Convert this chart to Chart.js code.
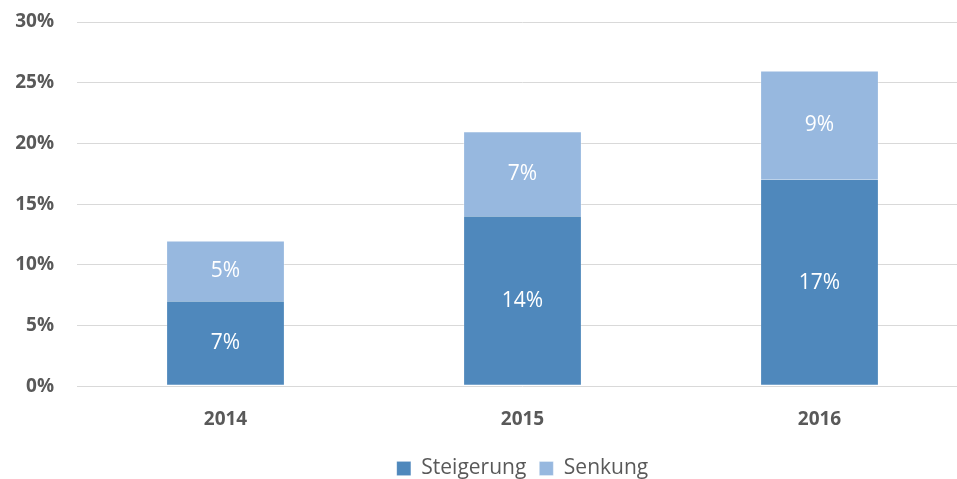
<!DOCTYPE html>
<html>
<head>
<meta charset="utf-8">
<script src="https://cdn.jsdelivr.net/npm/chart.js@4.4.0/dist/chart.umd.min.js"></script>
<style>
  html, body { margin: 0; padding: 0; background: #fff; overflow: hidden; }
  #wrap { position: relative; width: 968px; height: 479px; }
</style>
</head>
<body>
<div id="wrap"><canvas id="chart_increaseDecrease"></canvas></div>
<script>
var years = ['2014', '2015', '2016'];
var steigerung = [7, 14, 17];
var senkung = [5, 7, 9];
var yTicks = [0, 5, 10, 15, 20, 25, 30];

var textGrey = '#595959';
var fontFamily = '"Open Sans", sans-serif';

// white value labels in the middle of each stacked segment
var valueLabels = {
    id: 'valueLabels',
    afterDatasetsDraw: function (chart) {
        var ctx = chart.ctx;
        ctx.save();
        ctx.fillStyle = '#ffffff';
        ctx.font = '21px ' + fontFamily;
        ctx.textAlign = 'center';
        ctx.textBaseline = 'middle';
        chart.data.datasets.forEach(function (ds, i) {
            chart.getDatasetMeta(i).data.forEach(function (bar, j) {
                var p = bar.getCenterPoint();
                ctx.fillText(ds.data[j] + '%', p.x, p.y);
            });
        });
        ctx.restore();
    }
};

var chart_increaseDecrease = new Chart(document.getElementById('chart_increaseDecrease'), {
    type: 'bar',
    data: {
        labels: years,
        datasets: [
            {
                label: 'Steigerung',
                data: steigerung,
                backgroundColor: '#4f88bc',
                borderColor: 'rgba(255,255,255,0.12)',
                borderWidth: 1,
                borderSkipped: 'top',
                barPercentage: 1,
                categoryPercentage: 0.4
            },
            {
                label: 'Senkung',
                data: senkung,
                backgroundColor: '#97b8df',
                borderColor: 'rgba(255,255,255,0.3)',
                borderWidth: 1,
                borderSkipped: 'bottom',
                barPercentage: 1,
                categoryPercentage: 0.4
            }
        ]
    },
    options: {
        animation: false,
        responsive: true,
        maintainAspectRatio: false,
        layout: { padding: { top: 22, left: 0, right: 0, bottom: -10 } },
        plugins: {
            legend: {
                position: 'bottom',
                fullSize: false,
                labels: {
                    color: textGrey,
                    font: { family: fontFamily, size: 21 },
                    boxWidth: 14,
                    boxHeight: 14,
                    padding: 13
                }
            },
            tooltip: { enabled: false }
        },
        scales: {
            x: {
                stacked: true,
                grid: { display: false },
                border: { display: false },
                ticks: {
                    color: textGrey,
                    font: { family: fontFamily, size: 19, weight: 'bold' },
                    padding: 14
                }
            },
            y: {
                stacked: true,
                min: 0,
                max: 30,
                afterFit: function (scale) { scale.width = 77; },
                afterBuildTicks: function (scale) {
                    scale.ticks = yTicks.map(function (v) { return { value: v }; });
                },
                // invisible tick marks keep the labels away from the plot
                grid: { color: '#d9d9d9', lineWidth: 1, drawTicks: true, tickLength: 23, tickColor: 'rgba(0,0,0,0)' },
                border: { display: false },
                ticks: {
                    color: textGrey,
                    font: { family: fontFamily, size: 19, weight: 'bold' },
                    padding: 0,
                    callback: function (v) { return v + '%'; }
                }
            }
        }
    },
    plugins: [valueLabels]
});
</script>
</body>
</html>
